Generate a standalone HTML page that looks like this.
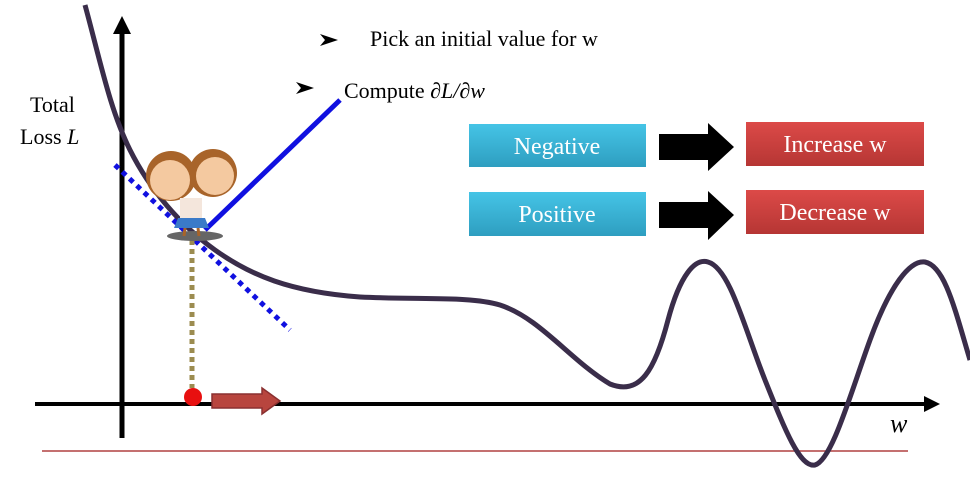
<!DOCTYPE html>
<html><head><style>
body{margin:0;background:#fff;width:970px;height:477px;overflow:hidden;font-family:"Liberation Serif",serif}
</style></head><body>
<svg width="970" height="477" viewBox="0 0 970 477" xmlns="http://www.w3.org/2000/svg">
<defs>
<linearGradient id="bl" x1="0" y1="0" x2="0" y2="1"><stop offset="0" stop-color="#45c4e6"/><stop offset="1" stop-color="#2e9ec0"/></linearGradient>
<linearGradient id="rd" x1="0" y1="0" x2="0" y2="1"><stop offset="0" stop-color="#dc4a48"/><stop offset="1" stop-color="#b63634"/></linearGradient>
</defs>
<line x1="42" y1="451" x2="908" y2="451" stroke="#b04040" stroke-width="1.5"/>
<line x1="35" y1="404" x2="930" y2="404" stroke="#000" stroke-width="4"/>
<polygon points="940,404 924,396 924,412" fill="#000"/>
<line x1="122" y1="438" x2="122" y2="30" stroke="#000" stroke-width="5"/>
<polygon points="122,16 113,34 131,34" fill="#000"/>
<path d="M85,5 C100,60 110,110 130,150 C150,190 180,225 215,250 C250,275 290,292 360,297 C420,300 470,296 500,305 C540,318 570,360 610,384 C640,396 655,370 668,320 C680,275 695,258 708,262 C730,268 745,330 765,380 C785,430 800,468 815,465 C832,460 850,395 870,340 C890,285 910,260 925,262 C945,266 955,310 970,360" fill="none" stroke="#3a2d4a" stroke-width="5"/>
<line x1="205" y1="230" x2="340" y2="100" stroke="#1010e0" stroke-width="5"/>
<line x1="115" y1="165" x2="290" y2="330" stroke="#1010e0" stroke-width="5" stroke-dasharray="5,5"/>
<line x1="192" y1="240" x2="192" y2="388" stroke="#9c8c50" stroke-width="5" stroke-dasharray="5,4"/>
<circle cx="193" cy="397" r="9" fill="#e81010"/>
<polygon points="212,394 262,394 262,388 280,401 262,414 262,408 212,408" fill="#b8453e" stroke="#8a3030" stroke-width="1.5"/>
<ellipse cx="195" cy="236" rx="28" ry="5" fill="#666"/>
<circle cx="213" cy="173" r="24" fill="#a8642a"/>
<circle cx="215" cy="176" r="19" fill="#f4c9a0"/>
<circle cx="171" cy="176" r="25" fill="#a8642a"/>
<circle cx="170" cy="180" r="20" fill="#f4c9a0"/>
<rect x="180" y="198" width="22" height="20" fill="#f4e6dc"/>
<polygon points="178,218 205,218 209,228 174,228" fill="#3a7ac8"/>
<line x1="185" y1="228" x2="184" y2="236" stroke="#a8642a" stroke-width="3"/>
<line x1="198" y1="228" x2="199" y2="236" stroke="#a8642a" stroke-width="3"/>
<text x="370" y="46" font-size="22" fill="#000">Pick an initial value for w</text>
<polygon points="320,34 338,40 320,46 325,40" fill="#000"/>
<text x="344" y="98" font-size="22" fill="#000">Compute <tspan font-style="italic">∂L/∂w</tspan></text>
<polygon points="296,82 314,88 296,94 301,88" fill="#000"/>
<text x="30" y="112" font-size="22" fill="#000">Total</text>
<text x="20" y="144" font-size="22" fill="#000">Loss <tspan font-style="italic">L</tspan></text>
<text x="890" y="432" font-size="26" font-style="italic" fill="#000">w</text>
<rect x="469" y="124" width="177" height="43" fill="url(#bl)"/>
<text x="557" y="154" font-size="24" fill="#fff" text-anchor="middle">Negative</text>
<rect x="469" y="192" width="177" height="44" fill="url(#bl)"/>
<text x="557" y="222" font-size="24" fill="#fff" text-anchor="middle">Positive</text>
<rect x="746" y="122" width="178" height="44" fill="url(#rd)"/>
<text x="835" y="152" font-size="24" fill="#fff" text-anchor="middle">Increase w</text>
<rect x="746" y="190" width="178" height="44" fill="url(#rd)"/>
<text x="835" y="220" font-size="24" fill="#fff" text-anchor="middle">Decrease w</text>
<polygon points="659,134 708,134 708,123 734,147 708,171 708,160 659,160" fill="#000"/>
<polygon points="659,202 708,202 708,191 734,215 708,240 708,228 659,228" fill="#000"/>
</svg>
</body></html>
